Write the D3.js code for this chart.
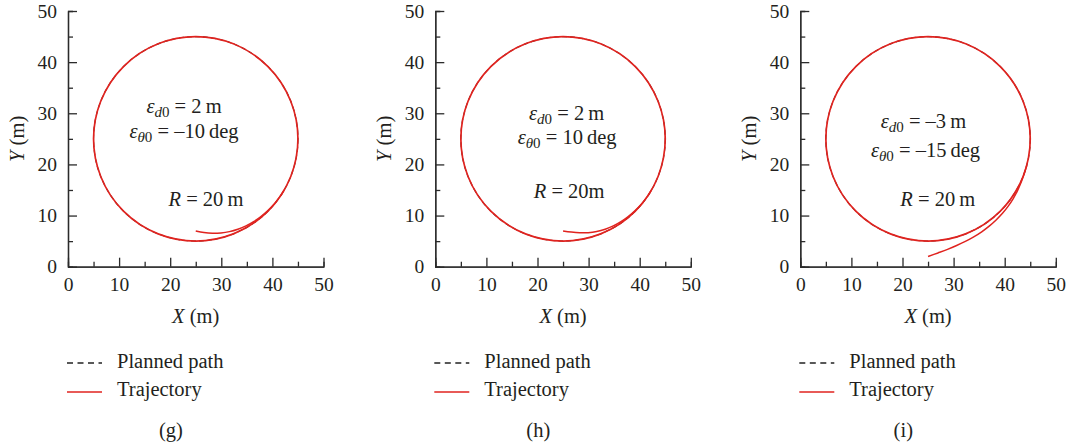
<!DOCTYPE html>
<html>
<head>
<meta charset="utf-8">
<script src="https://cdn.jsdelivr.net/npm/d3@7"></script>
<style>
  body { margin: 0; background: #fff; }
  svg { display: block; }
  text { font-family: "Liberation Serif", "Times New Roman", serif; fill: #231f20; }
</style>
</head>
<body>
<div id="chart-area"></div>
<script>
// axis ticks
var majorTicks = [0, 10, 20, 30, 40, 50];
var minorTicks = [5, 15, 25, 35, 45];

// planned path: circle, centre and radius (m)
var pathCenter = [25, 25];
var pathRadius = 20;

// trajectory transients (x, y in m) before they join the circle
var trajG = [[25.00, 7.00], [26.60, 6.67], [28.26, 6.53], [29.93, 6.60], [31.60, 6.86], [33.24, 7.33],
    [34.83, 7.98], [36.33, 8.82], [37.75, 9.81], [39.06, 10.94], [40.27, 12.18], [41.36, 13.55], [42.32, 15.00]];
var trajH = [[25.00, 7.00], [26.60, 6.77], [28.24, 6.63], [29.92, 6.65], [31.59, 6.88], [33.24, 7.33],
    [34.83, 7.98], [36.33, 8.82], [37.75, 9.81], [39.06, 10.94], [40.27, 12.18], [41.36, 13.55], [42.32, 15.00]];
var trajI = [[25.00, 2.00], [26.95, 2.69], [28.81, 3.38], [30.59, 4.14], [32.30, 4.94], [33.94, 5.83],
    [35.50, 6.81], [36.96, 7.92], [38.32, 9.13], [39.57, 10.43], [40.69, 11.84], [41.67, 13.33],
    [42.51, 14.89], [43.22, 16.51], [43.82, 18.15], [44.32, 19.82]];

var w = 1071, h = 447;
var svg = d3.select("#chart-area").append("svg")
    .attr("width", w)
    .attr("height", h);

var x = d3.scaleLinear().domain([0, 50]).range([0, 255.5]);
var y = d3.scaleLinear().domain([0, 50]).range([255.7, 0]);

var red = "#e0231f";
var axisColor = "#2b2b2b";

var panels = [
    { ox: 68, traj: trajG, label: "(g)", ed: "2", eth: "–10", rText: "R = 20\u2009m",
      l1: [22.7, 30.1], l2: [22.7, 25.2], l3: [27.0, 11.9] },
    { ox: 435.3, traj: trajH, label: "(h)", ed: "2", eth: "10", rText: "R = 20m",
      l1: [25.7, 28.6], l2: [25.8, 23.9], l3: [26.2, 13.4] },
    { ox: 800.3, traj: trajI, label: "(i)", ed: "–3", eth: "–15", rText: "R = 20\u2009m",
      l1: [24.1, 27.1], l2: [24.5, 21.4], l3: [26.9, 11.9] }
];

panels.forEach(function(p) {
    var g = svg.append("g")
        .attr("transform", "translate(" + p.ox + ", 11)");

    // minor ticks
    g.append("g")
        .attr("class", "minor x")
        .attr("transform", "translate(0, " + y(0) + ")")
        .call(d3.axisBottom(x).tickValues(minorTicks).tickSize(-5).tickFormat(""));
    g.append("g")
        .attr("class", "minor y")
        .call(d3.axisLeft(y).tickValues(minorTicks).tickSize(-5).tickFormat(""));

    // major ticks with labels
    g.append("g")
        .attr("class", "bottom axis")
        .attr("transform", "translate(0, " + y(0) + ")")
        .call(d3.axisBottom(x).tickValues(majorTicks).tickSize(-9).tickSizeOuter(0).tickPadding(10));
    g.append("g")
        .attr("class", "left axis")
        .call(d3.axisLeft(y).tickValues(majorTicks).tickSize(-9).tickSizeOuter(0).tickPadding(11));

    g.selectAll(".tick text").attr("font-size", "19.5px").style("font-family", "Liberation Serif");
    g.selectAll(".domain, .tick line").attr("stroke", axisColor).attr("stroke-width", 1.3);
    g.selectAll(".tick text").attr("fill", "#231f20");

    // planned path
    g.append("circle")
        .attr("cx", x(pathCenter[0]))
        .attr("cy", y(pathCenter[1]))
        .attr("r", x(pathRadius) - x(0))
        .attr("fill", "none")
        .attr("stroke", "#222")
        .attr("stroke-width", 1.1)
        .attr("stroke-dasharray", "5,3");

    // trajectory: converged circle + transient
    g.append("circle")
        .attr("cx", x(pathCenter[0]))
        .attr("cy", y(pathCenter[1]))
        .attr("r", x(pathRadius) - x(0))
        .attr("fill", "none")
        .attr("stroke", red)
        .attr("stroke-width", 1.7);

    var line = d3.line()
        .x(function(d) { return x(d[0]); })
        .y(function(d) { return y(d[1]); })
        .curve(d3.curveCatmullRom);

    g.append("path")
        .datum(p.traj)
        .attr("d", line)
        .attr("fill", "none")
        .attr("stroke", red)
        .attr("stroke-width", 1.5);

    // annotations
    var t1 = g.append("text")
        .attr("x", x(p.l1[0]))
        .attr("y", y(p.l1[1]))
        .attr("text-anchor", "middle")
        .attr("font-size", "20.5px");
    t1.append("tspan").attr("font-style", "italic").text("ε");
    t1.append("tspan").attr("font-size", "15px").attr("dy", 4).attr("font-style", "italic").text("d");
    t1.append("tspan").attr("font-size", "15px").text("0");
    t1.append("tspan").attr("dy", -4).text(" = " + p.ed + "\u2009m");

    var t2 = g.append("text")
        .attr("x", x(p.l2[0]))
        .attr("y", y(p.l2[1]))
        .attr("text-anchor", "middle")
        .attr("font-size", "20.5px");
    t2.append("tspan").attr("font-style", "italic").text("ε");
    t2.append("tspan").attr("font-size", "15px").attr("dy", 4).attr("font-style", "italic").text("θ");
    t2.append("tspan").attr("font-size", "15px").text("0");
    t2.append("tspan").attr("dy", -4).text(" = " + p.eth + "\u2009deg");

    var t3 = g.append("text")
        .attr("x", x(p.l3[0]))
        .attr("y", y(p.l3[1]))
        .attr("text-anchor", "middle")
        .attr("font-size", "20.5px");
    t3.append("tspan").attr("font-style", "italic").text("R");
    t3.append("tspan").text(p.rText.slice(1));

    // axis titles
    var xt = g.append("text")
        .attr("x", x(25))
        .attr("y", 312)
        .attr("text-anchor", "middle")
        .attr("font-size", "20.5px");
    xt.append("tspan").attr("font-style", "italic").text("X");
    xt.append("tspan").text(" (m)");

    var yt = g.append("text")
        .attr("x", -y(25) + 0)
        .attr("y", -44)
        .attr("transform", "rotate(-90)")
        .attr("text-anchor", "middle")
        .attr("font-size", "20.5px");
    yt.append("tspan").attr("font-style", "italic").text("Y");
    yt.append("tspan").text(" (m)");

    // legend
    var lg = svg.append("g").attr("transform", "translate(" + (p.ox - 1) + ", 0)");
    lg.append("line")
        .attr("x1", 0).attr("x2", 35).attr("y1", 363).attr("y2", 363)
        .attr("stroke", "#222").attr("stroke-width", 1.5).attr("stroke-dasharray", "6,4.5");
    lg.append("text").attr("x", 50).attr("y", 368).attr("font-size", "20.5px").text("Planned path");
    lg.append("line")
        .attr("x1", 0).attr("x2", 35).attr("y1", 392).attr("y2", 392)
        .attr("stroke", red).attr("stroke-width", 1.5);
    lg.append("text").attr("x", 50).attr("y", 396).attr("font-size", "20.5px").text("Trajectory");

    svg.append("text")
        .attr("x", p.ox + 103)
        .attr("y", 437)
        .attr("text-anchor", "middle")
        .attr("font-size", "20.5px")
        .text(p.label);
});
</script>
</body>
</html>
